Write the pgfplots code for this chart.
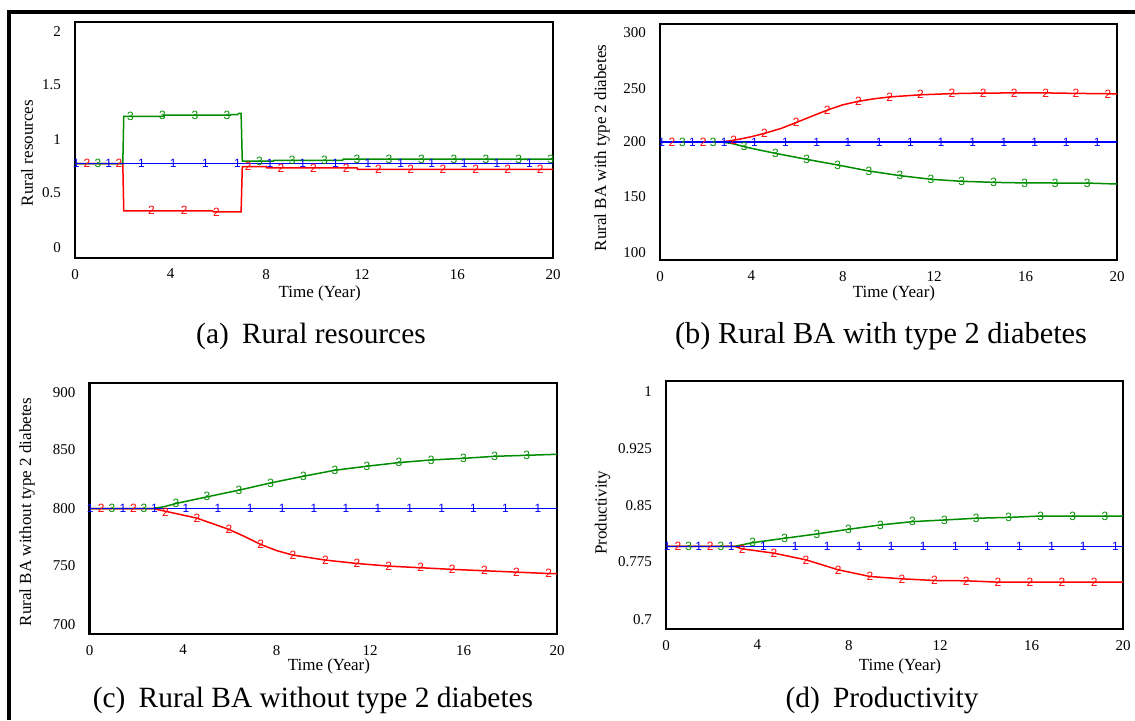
\documentclass[border=0pt]{standalone}
\usepackage{fontspec}
\setmainfont{Liberation Serif}
\newfontfamily\marksf{Liberation Sans}
\usepackage{pgfplots}
\pgfplotsset{compat=1.18}
\definecolor{S1}{HTML}{0000FF}
\definecolor{S2}{HTML}{FF0000}
\definecolor{S3}{HTML}{008C00}

\pgfplotsset{
  vensim/.style={
    scale only axis, anchor=south west,
    xmin=0, xmax=20, xtick={0,4,8,12,16,20},
    axis line style={line width=1.3pt},
    major tick length=0pt,
    tick label style={font=\fontsize{7.5}{9}\selectfont},
    /pgf/number format/assume math mode=true,
    xticklabel style={yshift=-2pt},
    yticklabel style={xshift=-3.5pt},
    label style={font=\fontsize{8.5}{10}\selectfont},
    xlabel={Time (Year)},
  },
  ln/.style={line width=0.75pt, draw=#1, mark=none},
  mk/.style 2 args={only marks, mark=text, text mark={#1}, text mark as node=true,
    text mark style={font=\fontsize{6}{6}\marksf, text=#2, inner sep=0pt}},
}

\begin{document}
\begin{tikzpicture}[x=1pt,y=1pt]
\useasboundingbox (0,0) rectangle (567.5,360);
% outer frame (left and top)
\draw[line width=2pt] (4.5,0) -- (4.5,354) -- (567.5,354);

% (a) Rural resources
\begin{axis}[vensim, at={(37.5pt,231pt)}, width=239pt, height=118pt,
  ymin=0, ymax=2,
  ytick={0.085,0.551,1,1.466,1.915}, yticklabels={0,0.5,1,1.5,2},
  ylabel={Rural resources},
  ylabel style={at={(axis description cs:-0.1004,0.445)}, anchor=center},
  xlabel style={at={(axis description cs:0.512,-0.148)}, anchor=center}]
\addplot[ln=S2] coordinates {(0,0.8)(2,0.8)(2.04,0.40)(5.75,0.40)(5.8,0.39)(6.95,0.39)(7.0,0.775)(8.0,0.775)(8.02,0.764)(11.8,0.764)(11.82,0.752)(20,0.752)};
\addplot[mk={2}{S2}] coordinates {(0.5,0.8)(1.84,0.8)(3.2,0.40)(4.57,0.40)(5.92,0.39)(7.25,0.775)(8.62,0.764)(9.98,0.764)(11.35,0.764)(12.7,0.752)(14.05,0.752)(15.4,0.752)(16.77,0.752)(18.1,0.752)(19.47,0.752)};
\addplot[ln=S3] coordinates {(0,0.8)(2,0.8)(2.04,1.20)(3.7,1.20)(3.72,1.21)(6.5,1.21)(6.52,1.216)(6.8,1.216)(6.85,1.225)(6.95,1.225)(7.0,0.82)(8.3,0.82)(8.32,0.828)(11.2,0.828)(11.22,0.838)(20,0.838)};
\addplot[mk={3}{S3}] coordinates {(0.96,0.8)(2.32,1.20)(3.66,1.205)(5.02,1.21)(6.36,1.21)(7.72,0.82)(9.09,0.828)(10.44,0.828)(11.8,0.838)(13.14,0.838)(14.5,0.838)(15.86,0.838)(17.2,0.838)(18.56,0.838)(19.9,0.838)};
\addplot[ln=S1] coordinates {(0,0.8)(20,0.8)};
\addplot[mk={1}{S1}] coordinates {(0.05,0.8)(1.41,0.8)(2.78,0.8)(4.11,0.8)(5.46,0.8)(6.8,0.8)(8.16,0.8)(9.53,0.8)(10.9,0.8)(12.26,0.8)(13.63,0.8)(14.92,0.8)(16.28,0.8)(17.65,0.8)(19.01,0.8)};
\end{axis}

% (b) Rural BA with type 2 diabetes
\begin{axis}[vensim, at={(330pt,230pt)}, width=228.5pt, height=118pt,
  ymin=100, ymax=300,
  ytick={106.5,153.6,200,245.5,292.4}, yticklabels={100,150,200,250,300},
  ylabel={Rural BA with type 2 diabetes},
  ylabel style={at={(axis description cs:-0.127,0.475)}, anchor=center},
  xlabel style={at={(axis description cs:0.512,-0.140)}, anchor=center}]
\addplot[ln=S2] coordinates {(0,200)(2.5,200)(3,200.8)(3.5,202.5)(4,204.5)(4.57,207.3)(5.3,211.5)(5.96,216.5)(6.6,221.5)(7.32,227)(8,231.5)(8.68,234.5)(9.4,236.7)(10.05,238.2)(11.4,240)(12.78,241)(14.15,241.5)(16.9,241.6)(18.2,241.2)(20,240.8)};
\addplot[mk={2}{S2}] coordinates {(0.52,200)(1.89,200)(3.23,201.8)(4.57,207.3)(5.96,216.5)(7.32,227)(8.68,234.5)(10.05,238.2)(11.4,240)(12.78,241)(14.15,241.5)(15.5,241.6)(16.88,241.6)(18.2,241.2)(19.6,240.8)};
\addplot[ln=S3] coordinates {(0,200)(2.7,200)(3.2,198.5)(3.69,196)(4.4,193)(5.05,190.4)(6.42,185.3)(7.78,180.5)(9.15,175.4)(10.5,171.5)(11.86,168.4)(13.2,166.7)(14.6,165.8)(16,165.3)(18.7,165.2)(20,164.4)};
\addplot[mk={3}{S3}] coordinates {(0.98,200)(2.33,200)(3.69,196)(5.05,190.4)(6.42,185.3)(7.78,180.5)(9.15,175.4)(10.5,171.5)(11.86,168.4)(13.2,166.7)(14.6,165.8)(15.96,165.3)(17.3,165.3)(18.7,165.2)};
\addplot[ln=S1] coordinates {(0,200)(20,200)};
\addplot[mk={1}{S1}] coordinates {(0.08,200)(1.42,200)(2.81,200)(4.13,200)(5.49,200)(6.86,200)(8.23,200)(9.59,200)(10.96,200)(12.3,200)(13.68,200)(15.05,200)(16.4,200)(17.78,200)(19.13,200)};
\end{axis}

% (c) Rural BA without type 2 diabetes
\begin{axis}[vensim, at={(44.75pt,43pt)}, width=233.75pt, height=125.5pt,
  ymin=700, ymax=900,
  ytick={707.2,754.2,800,846.6,892.3}, yticklabels={700,750,800,850,900},
  ylabel={Rural BA without type 2 diabetes},
  ylabel style={at={(axis description cs:-0.1337,0.486)}, anchor=center},
  xlabel style={at={(axis description cs:0.512,-0.1275)}, anchor=center}]
\addplot[ln=S3] coordinates {(0,800)(2.7,800)(3.2,801.5)(3.7,804)(5.03,809.3)(6.39,814.6)(7.75,820.4)(9.15,825.7)(10.5,830.5)(11.87,833.7)(13.24,836.6)(14.62,838.7)(16,840)(17.34,841.6)(18.7,842.4)(20,843.2)};
\addplot[mk={3}{S3}] coordinates {(0.96,800)(2.33,800)(3.7,804)(5.03,809.3)(6.39,814.6)(7.75,820.4)(9.15,825.7)(10.5,830.5)(11.87,833.7)(13.24,836.6)(14.62,838.7)(16.0,840)(17.34,841.6)(18.7,842.4)};
\addplot[ln=S2] coordinates {(0,800)(2.7,800)(3.25,797.8)(4.6,792.3)(5.97,783.3)(6.6,778)(7.32,771.4)(8,766.5)(8.7,762.9)(10.09,758.9)(11.44,756.2)(12.8,754.1)(14.17,752.8)(15.52,751.5)(16.9,750.4)(18.27,749.3)(19.64,748.2)(20,748)};
\addplot[mk={2}{S2}] coordinates {(0.5,800)(1.88,800)(3.25,797.3)(4.6,792.3)(5.97,783.3)(7.32,771.4)(8.7,762.9)(10.09,758.9)(11.44,756.2)(12.8,754.1)(14.17,752.8)(15.52,751.5)(16.9,750.4)(18.27,749.3)(19.64,748.2)};
\addplot[ln=S1] coordinates {(0,800)(20,800)};
\addplot[mk={1}{S1}] coordinates {(0.03,800)(1.43,800)(2.78,800)(4.13,800)(5.5,800)(6.87,800)(8.24,800)(9.6,800)(10.97,800)(12.34,800)(13.7,800)(15.07,800)(16.43,800)(17.8,800)(19.18,800)};
\end{axis}

% (d) Productivity
\begin{axis}[vensim, at={(333pt,45.5pt)}, width=228.5pt, height=124pt,
  ymin=0.7, ymax=1,
  ytick={0.7109,0.7814,0.8492,0.9186,0.9871}, yticklabels={0.7,0.775,0.85,0.925,1},
  ylabel={Productivity},
  ylabel style={at={(axis description cs:-0.139,0.468)}, anchor=center},
  xlabel style={at={(axis description cs:0.512,-0.149)}, anchor=center}]
\addplot[ln=S3] coordinates {(0,0.8)(3,0.8)(3.8,0.8045)(5.2,0.8098)(6.61,0.815)(7.98,0.8206)(9.38,0.8259)(10.79,0.8299)(12.19,0.8319)(13.58,0.834)(15,0.835)(16.4,0.8367)(20,0.8365)};
\addplot[mk={3}{S3}] coordinates {(0.99,0.8)(2.41,0.8)(3.8,0.8045)(5.2,0.8098)(6.61,0.815)(7.98,0.8206)(9.38,0.8259)(10.79,0.8299)(12.19,0.8319)(13.58,0.834)(15.0,0.835)(16.4,0.8367)(17.8,0.8365)(19.21,0.8365)};
\addplot[ln=S2] coordinates {(0,0.8)(3,0.8)(3.33,0.797)(4.73,0.7917)(6.13,0.7836)(7.54,0.7716)(8.93,0.7635)(10.33,0.7607)(11.75,0.7587)(13.14,0.7583)(14.53,0.7567)(20,0.7567)};
\addplot[mk={2}{S2}] coordinates {(0.52,0.8)(1.94,0.8)(3.33,0.797)(4.73,0.7917)(6.13,0.7836)(7.54,0.7716)(8.93,0.7635)(10.33,0.7607)(11.75,0.7587)(13.14,0.7583)(14.53,0.7567)(15.93,0.7567)(17.33,0.7567)(18.74,0.7567)};
\addplot[ln=S1] coordinates {(0,0.8)(20,0.8)};
\addplot[mk={1}{S1}] coordinates {(0.05,0.8)(1.43,0.8)(2.85,0.8)(4.26,0.8)(5.65,0.8)(7.05,0.8)(8.45,0.8)(9.86,0.8)(11.26,0.8)(12.67,0.8)(14.07,0.8)(15.47,0.8)(16.88,0.8)(18.26,0.8)(19.67,0.8)};
\end{axis}

% captions
\node[anchor=base, font=\fontsize{14.7}{16}\selectfont] at (155.5,188.5) {(a)\hspace{0.45em}Rural resources};
\node[anchor=base, font=\fontsize{15.2}{17}\selectfont] at (440.5,188.5) {(b) Rural BA with type 2 diabetes};
\node[anchor=base, font=\fontsize{14.7}{16}\selectfont] at (156.5,6.5) {(c)\hspace{0.45em}Rural BA without type 2 diabetes};
\node[anchor=base, font=\fontsize{14.7}{16}\selectfont] at (441,6.5) {(d)\hspace{0.45em}Productivity};
\end{tikzpicture}
\end{document}
